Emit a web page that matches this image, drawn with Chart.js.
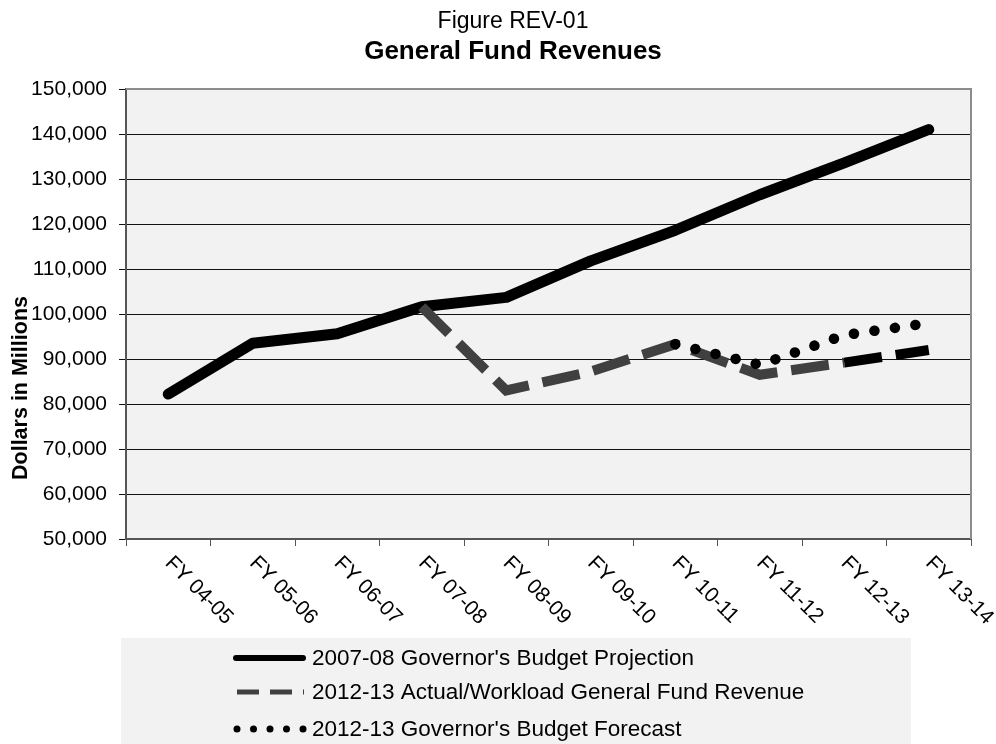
<!DOCTYPE html>
<html lang="en">
<head>
  <meta charset="UTF-8" />
  <title>General Fund Revenues</title>
  <script src="https://cdn.jsdelivr.net/npm/chart.js@4.4.1/dist/chart.umd.min.js"></script>
  <style>
    html, body { margin: 0; padding: 0; background: #fff; }
    .wrap { width: 996px; height: 744px; position: relative; }
  </style>
</head>
<body>
  <div class="wrap">
    <canvas id="revChart"></canvas>
  </div>

  <script>
    // fiscal years on the x axis
    const fiscalYears = [
      "FY 04-05", "FY 05-06", "FY 06-07", "FY 07-08", "FY 08-09",
      "FY 09-10", "FY 10-11", "FY 11-12", "FY 12-13", "FY 13-14",
    ];

    // $ millions
    const projection0708 = [82200, 93500, 95600, 101600, 103700, 111800, 118600, 126500, 133600, 141000];
    const actual1213 = [null, null, null, 101600, 83000, 87200, 93300, 86500, 89200, 92000];
    const forecast1213 = [null, null, null, null, null, null, 93300, 88700, 95300, 98000];

    const seriesNames = [
      "2007-08 Governor's Budget Projection",
      "2012-13 Actual/Workload General Fund Revenue",
      "2012-13 Governor's Budget Forecast",
    ];

    const yTicks = { min: 50000, max: 150000, step: 10000 };

    const FONT = "'Liberation Sans', Arial, sans-serif";

    // background, frame, titles, rotated x labels and the legend box
    const decor = {
      id: "decor",
      beforeDraw(chart) {
        const { ctx, chartArea: a } = chart;
        ctx.save();
        ctx.fillStyle = "#f2f2f2";
        ctx.fillRect(a.left, a.top, a.right - a.left, a.bottom - a.top);
        ctx.restore();
      },
      afterDraw(chart) {
        const { ctx, chartArea: a } = chart;
        const xs = chart.scales.x;
        ctx.save();

        // top and right frame
        ctx.strokeStyle = "#8c8c8c";
        ctx.lineWidth = 2;
        ctx.beginPath();
        ctx.moveTo(a.left, a.top);
        ctx.lineTo(a.right, a.top);
        ctx.lineTo(a.right, a.bottom);
        ctx.stroke();

        // titles
        ctx.fillStyle = "#000";
        ctx.textAlign = "center";
        ctx.textBaseline = "middle";
        ctx.font = "23px " + FONT;
        ctx.fillText("Figure REV-01", 513, 22);
        ctx.font = "bold 26px " + FONT;
        ctx.fillText("General Fund Revenues", 513, 52);

        // y axis title (sits low, like the original)
        ctx.save();
        ctx.translate(21, 388);
        ctx.rotate(-Math.PI / 2);
        ctx.font = "bold 21.5px " + FONT;
        ctx.fillText("Dollars in Millions", 0, 0);
        ctx.restore();

        // x labels, rotated 45 deg clockwise
        ctx.font = "21px " + FONT;
        ctx.textAlign = "left";
        fiscalYears.forEach((lab, i) => {
          const x = xs.getPixelForValue(i);
          ctx.save();
          ctx.translate(x, a.bottom + 21);
          ctx.rotate(Math.PI / 4);
          ctx.fillText(lab, 0, 0);
          ctx.restore();
        });

        // legend
        ctx.fillStyle = "#f2f2f2";
        ctx.fillRect(121, 638, 790, 106);
        const rows = [658, 692, 729];
        ctx.font = "22.5px " + FONT;
        ctx.textAlign = "left";
        chart.data.datasets.forEach((ds, i) => {
          const y = rows[i];
          ctx.save();
          ctx.strokeStyle = ds.borderColor;
          if (i === 0) {
            ctx.lineWidth = 6;
            ctx.lineCap = "round";
            ctx.beginPath();
            ctx.moveTo(236, y);
            ctx.lineTo(303, y);
            ctx.stroke();
          } else if (i === 1) {
            ctx.lineWidth = 5;
            ctx.lineCap = "butt";
            ctx.setLineDash([22, 11]);
            ctx.beginPath();
            ctx.moveTo(237, y);
            ctx.lineTo(304, y);
            ctx.stroke();
          } else {
            ctx.fillStyle = ds.borderColor;
            for (let k = 0; k < 5; k++) {
              ctx.beginPath();
              ctx.arc(237 + k * 16.5, y, 3.5, 0, Math.PI * 2);
              ctx.fill();
            }
          }
          ctx.restore();
          ctx.fillStyle = "#000";
          ctx.fillText(ds.label, 312, y + 1);
        });

        ctx.restore();
      },
    };

    const ctx = document.getElementById("revChart").getContext("2d");

    new Chart(ctx, {
      type: "line",
      data: {
        labels: fiscalYears,
        datasets: [
          {
            label: seriesNames[0],
            data: projection0708,
            borderColor: "#000000",
            borderWidth: 11,
            borderCapStyle: "round",
            borderJoinStyle: "round",
            pointRadius: 0,
            order: 3,
          },
          {
            label: seriesNames[1],
            data: actual1213,
            borderColor: "#404040",
            borderWidth: 10,
            borderDash: [38, 14],
            borderCapStyle: "butt",
            borderJoinStyle: "miter",
            pointRadius: 0,
            order: 2,
            // last piece of this line is black in the original
            segment: {
              borderColor: (c) => (c.p0DataIndex === 8 ? "#000000" : undefined),
            },
          },
          {
            label: seriesNames[2],
            data: forecast1213,
            borderColor: "#000000",
            borderWidth: 10.5,
            borderDash: [0.1, 20.6],
            borderCapStyle: "round",
            pointRadius: 0,
            order: 1,
          },
        ],
      },
      options: {
        responsive: true,
        maintainAspectRatio: false,
        animation: false,
        layout: { padding: { top: 89, right: 25, bottom: 0, left: 0 } },
        plugins: {
          legend: { display: false },
          title: { display: false },
          tooltip: { enabled: false },
        },
        scales: {
          x: {
            offset: true,
            grid: {
              offset: true,
              drawOnChartArea: false,
              tickLength: 7,
              color: "#555",
              lineWidth: 1,
            },
            border: { color: "#555", width: 2 },
            ticks: { display: false },
            afterFit: (s) => { s.height = 205; },
          },
          y: {
            min: yTicks.min,
            max: yTicks.max,
            grid: {
              color: "#111",
              lineWidth: 1,
              tickLength: 7,
            },
            border: { color: "#555", width: 2 },
            ticks: {
              stepSize: yTicks.step,
              padding: 12,
              color: "#000",
              font: { family: FONT, size: 21 },
              callback: (v) => v.toLocaleString("en-US"),
            },
            afterFit: (s) => { s.width = 126; },
          },
        },
      },
      plugins: [decor],
    });
  </script>
</body>
</html>
